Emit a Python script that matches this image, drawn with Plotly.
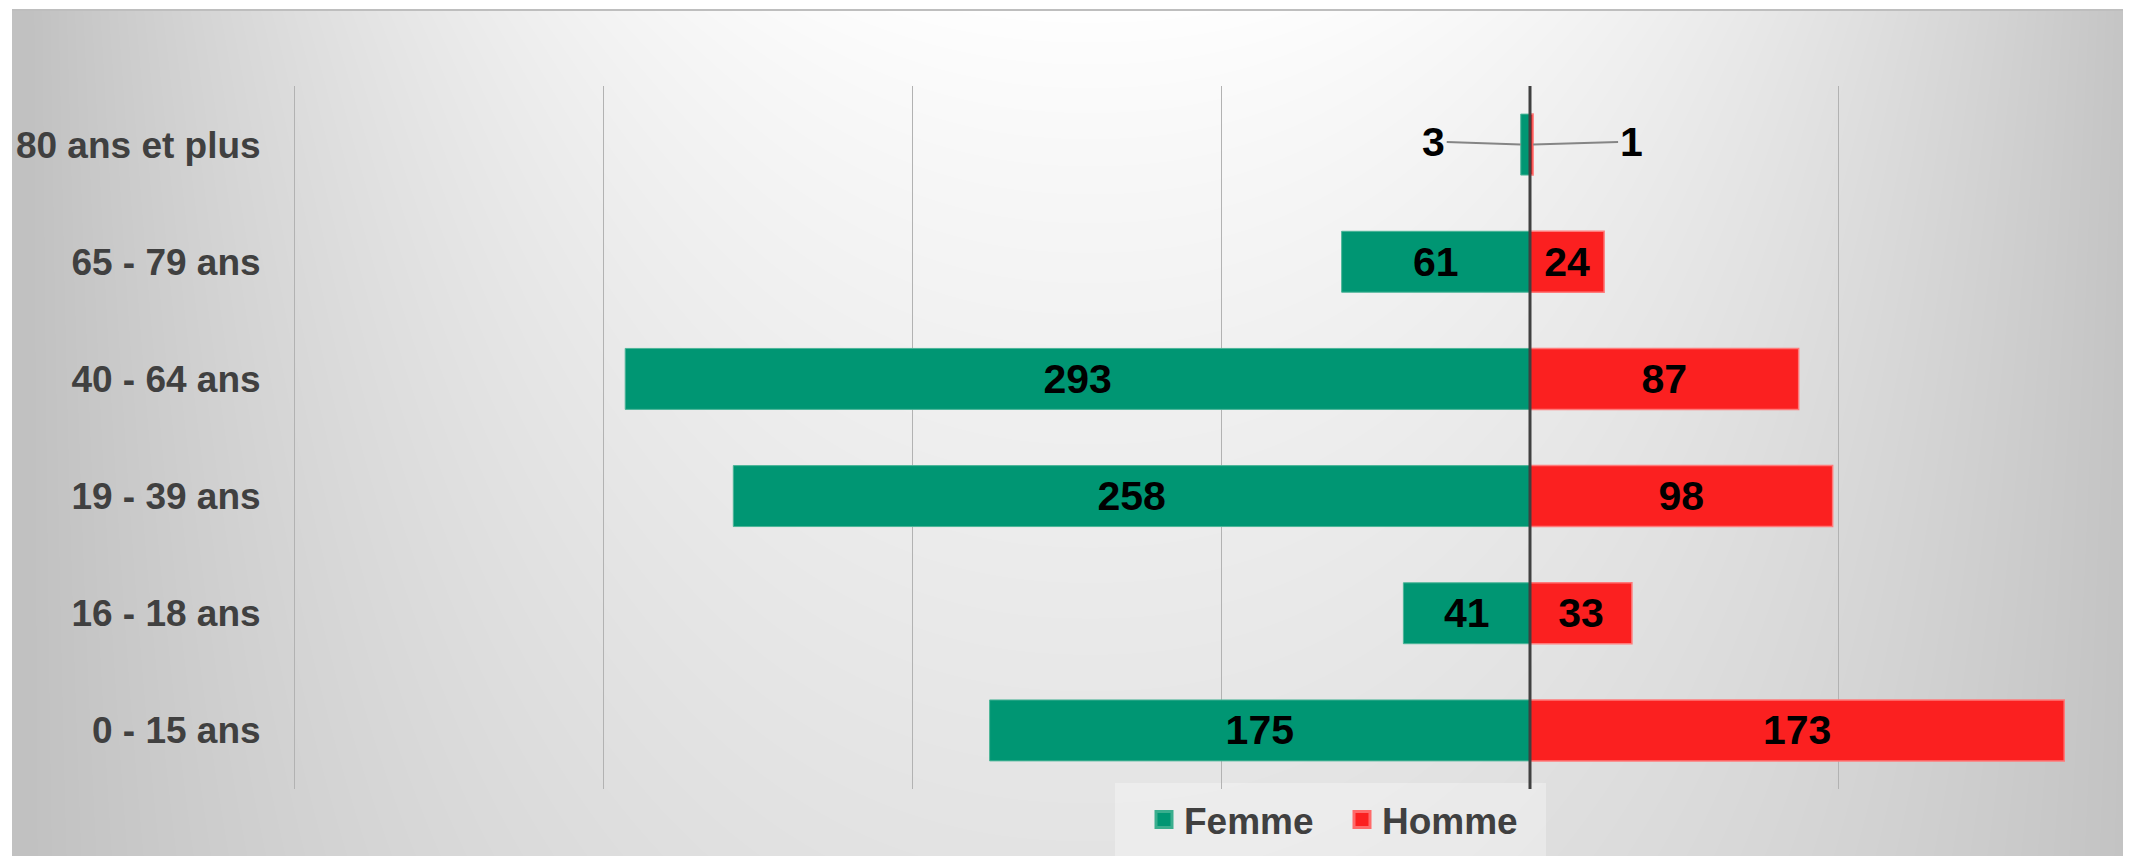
import base64
import struct
import zlib

import numpy as np
import plotly.graph_objects as go

# ---------------- data ----------------
categories = ["80 ans et plus", "65 - 79 ans", "40 - 64 ans", "19 - 39 ans", "16 - 18 ans", "0 - 15 ans"]
femme = [3, 61, 293, 258, 41, 175]
homme = [1, 24, 87, 98, 33, 173]
series_names = ["Femme", "Homme"]

# ---------------- styling ----------------
W, H = 2131, 856
OFF = 8  # page body margin: figure px = screen px - OFF
GREEN = "#009673"
GREEN_EDGE = "#3aae8e"
RED = "#fb2020"
RED_EDGE = "#ff6a6a"
FONT = "Liberation Sans, Arial, sans-serif"

# plot-area geometry (figure pixels)
ZERO_PX = 1530 - OFF
PX_PER_UNIT = 3.088
LEFT_VAL = -400.7
left_px = ZERO_PX + LEFT_VAL * PX_PER_UNIT
right_val = (W - ZERO_PX) / PX_PER_UNIT
plot_top_px, plot_bot_px = 86 - OFF, 789 - OFF


# ---------------- background gradient image ----------------
def png_gray(arr):
    h, w = arr.shape
    a = arr.astype(np.int16)
    diff = np.empty_like(a)
    diff[0] = a[0]
    diff[1:] = a[1:] - a[:-1]
    raw = np.empty((h, w + 1), dtype=np.uint8)
    raw[:, 0] = 2
    raw[:, 1:] = (diff % 256).astype(np.uint8)
    comp = zlib.compress(raw.tobytes(), 9)

    def chunk(t, d):
        c = struct.pack(">I", len(d)) + t + d
        return c + struct.pack(">I", zlib.crc32(t + d) & 0xFFFFFFFF)

    ihdr = struct.pack(">IIBBBBB", w, h, 8, 0, 0, 0, 0)
    return b"\x89PNG\r\n\x1a\n" + chunk(b"IHDR", ihdr) + chunk(b"IDAT", comp) + chunk(b"IEND", b"")


yy, xx = np.mgrid[0:H, 0:W].astype(float)
cx = 1090.0 - OFF
a = np.clip(np.abs(xx - cx) / 1060.0, 0, 1) ** 2.2
b = 0.45 * np.clip((yy + OFF) / 856.0, 0, 1) ** 0.8
f = np.clip(1 - (1 - a) * (1 - b), 0, 1)
img = 255 - 62 * f
img[:1, :] = 255
img[:, :4] = 255
img[1:3, 4:] = 190
img = np.clip(np.round(img), 0, 255).astype(np.uint8)
bg_uri = "data:image/png;base64," + base64.b64encode(png_gray(img)).decode()

# ---------------- figure ----------------
fig = go.Figure()

femme_text = [str(v) if v >= 10 else "" for v in femme]
homme_text = [str(v) if v >= 10 else "" for v in homme]

fig.add_trace(go.Bar(
    y=categories, x=[-v for v in femme], orientation="h", name=series_names[0],
    marker=dict(color=GREEN, line=dict(color="#4cb598", width=1)),
    text=femme_text, textposition="inside", insidetextanchor="middle",
    constraintext="none",
    textfont=dict(family=FONT, size=41, color="black", weight="bold"),
    showlegend=False, hoverinfo="skip",
))
fig.add_trace(go.Bar(
    y=categories, x=homme, orientation="h", name=series_names[1],
    marker=dict(color=RED, line=dict(color="#ff7a7a", width=1.5)),
    text=homme_text, textposition="inside", insidetextanchor="middle",
    constraintext="none",
    textfont=dict(family=FONT, size=41, color="black", weight="bold"),
    showlegend=False, hoverinfo="skip",
))

# legend entries
for nm, col, edge in [(series_names[0], GREEN, GREEN_EDGE), (series_names[1], RED, RED_EDGE)]:
    fig.add_trace(go.Scatter(
        x=[None], y=[None], mode="markers", name=nm,
        marker=dict(symbol="square", size=16, color=col, line=dict(color=edge, width=3)),
        showlegend=True, hoverinfo="skip",
    ))

# leader-line labels for the small values
for i, v in enumerate(femme):
    if v < 10:
        fig.add_annotation(
            x=-v, y=categories[i], xref="x", yref="y",
            text=str(v), showarrow=True, arrowhead=0, arrowwidth=2,
            arrowcolor="#858585", ax=-87, ay=-3, standoff=0,
            font=dict(family=FONT, size=41, color="black", weight="bold"),
        )
for i, v in enumerate(homme):
    if v < 10:
        fig.add_annotation(
            x=v, y=categories[i], xref="x", yref="y",
            text=str(v), showarrow=True, arrowhead=0, arrowwidth=2,
            arrowcolor="#858585", ax=98, ay=-3, standoff=0,
            font=dict(family=FONT, size=41, color="black", weight="bold"),
        )

# zero line above bars
fig.add_shape(type="line", xref="x", yref="y domain", x0=0, x1=0, y0=0, y1=1,
              line=dict(color="#404040", width=3), layer="above")

# legend background box
fig.add_shape(type="rect", xref="paper", yref="paper",
              x0=(1115 - OFF) / W, x1=(1546 - OFF) / W, y0=0, y1=1 - (783 - OFF) / H,
              fillcolor="rgba(255,255,255,0.32)", line=dict(width=0), layer="below")

fig.update_layout(
    width=W, height=H,
    margin=dict(l=0, r=0, t=0, b=0),
    paper_bgcolor="white", plot_bgcolor="rgba(0,0,0,0)",
    barmode="relative", bargap=0.48,
    font=dict(family=FONT),
    images=[dict(source=bg_uri, xref="paper", yref="paper", x=0, y=1,
                 sizex=1, sizey=1, xanchor="left", yanchor="top",
                 sizing="stretch", layer="below")],
    xaxis=dict(
        domain=[left_px / W, 1], range=[LEFT_VAL, right_val],
        showticklabels=False, ticks="", dtick=100, tick0=0,
        showgrid=True, gridcolor="#b2b2b2", gridwidth=1,
        zeroline=False, showline=False, automargin=False, fixedrange=True,
    ),
    yaxis=dict(
        domain=[1 - plot_bot_px / H, 1 - plot_top_px / H],
        type="category", categoryorder="array", categoryarray=categories,
        autorange="reversed", showgrid=False, zeroline=False, showline=False,
        ticks="", ticklabelstandoff=31,
        tickfont=dict(family=FONT, size=37, color="#404040", weight="bold"),
        automargin=False, fixedrange=True,
    ),
    legend=dict(
        orientation="h", x=(1342 - OFF) / W, xanchor="center",
        y=1 - (820 - OFF) / H, yanchor="middle",
        entrywidth=153, entrywidthmode="pixels",
        bgcolor="rgba(0,0,0,0)", font=dict(family=FONT, size=37, color="#404040", weight="bold"),
        traceorder="normal",
    ),
)

fig.write_html("out.html")
